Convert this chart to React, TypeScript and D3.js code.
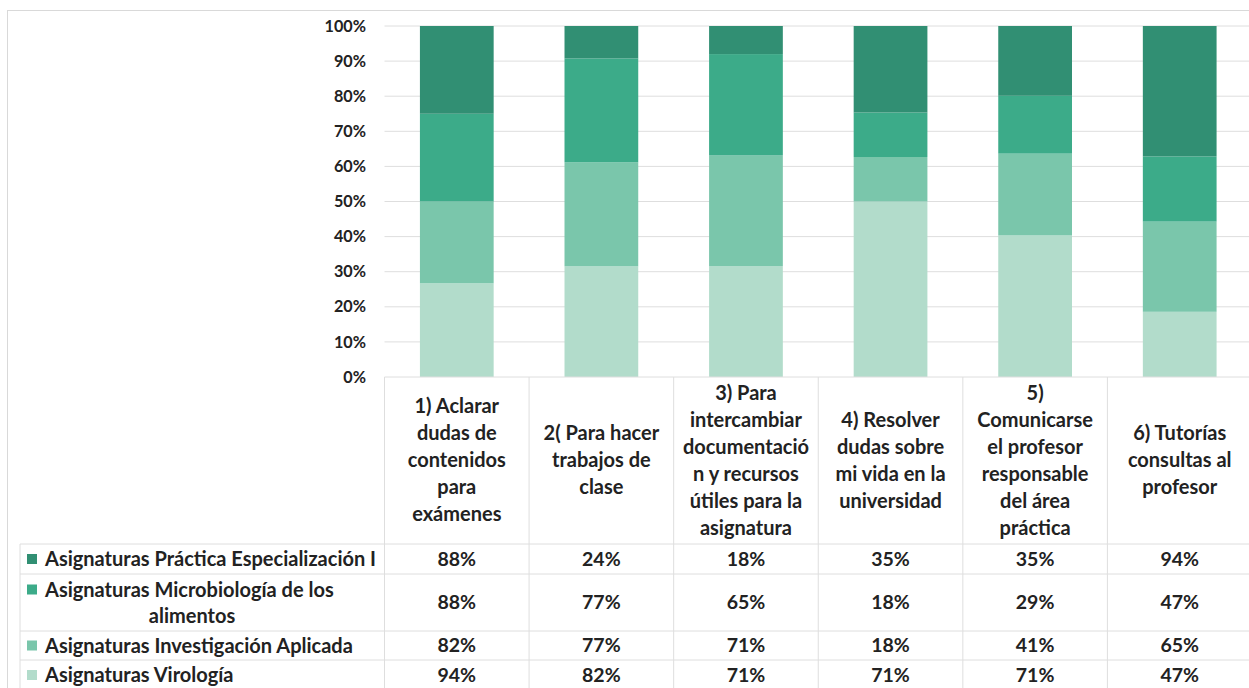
import * as d3 from "d3";

const categories = [
    ["1) Aclarar", "dudas de", "contenidos", "para", "exámenes"],
    ["2( Para hacer", "trabajos de", "clase"],
    ["3) Para", "intercambiar", "documentació", "n y recursos", "útiles para la", "asignatura"],
    ["4) Resolver", "dudas sobre", "mi vida en la", "universidad"],
    ["5)", "Comunicarse", "el profesor", "responsable", "del área", "práctica"],
    ["6) Tutorías", "consultas al", "profesor"],
];

// series, bottom of the stack first
const seriesNames = [
    ["Asignaturas Virología"],
    ["Asignaturas Investigación Aplicada"],
    ["Asignaturas Microbiología de los", "alimentos"],
    ["Asignaturas Práctica Especialización I"],
];
const virologia = [94, 82, 71, 71, 71, 47];
const investigacion = [82, 77, 71, 18, 41, 65];
const microbiologia = [88, 77, 65, 18, 29, 47];
const practica = [88, 24, 18, 35, 35, 94];
const seriesValues = [virologia, investigacion, microbiologia, practica];
const colors = ["#b2dccb", "#7ac6ab", "#3cab89", "#318f73"];
const yTicks = [0, 0.1, 0.2, 0.3, 0.4, 0.5, 0.6, 0.7, 0.8, 0.9, 1];

const W = 1249;
const H = 688;
const FONT = "Lato, 'Open Sans', sans-serif";
const GRID = "#dedede";

export default function App() {
    const plotLeft = 384.5;
    const plotRight = 1252;
    const plotTop = 26;
    const plotBottom = 377;

    const x = d3.scaleBand<number>()
        .domain(d3.range(categories.length))
        .range([plotLeft, plotRight])
        .paddingInner(0.49)
        .paddingOuter(0.245);
    const colX = d3.scaleBand<number>()
        .domain(d3.range(categories.length))
        .range([plotLeft, plotRight]);
    const y = d3.scaleLinear().domain([0, 1]).range([plotBottom, plotTop]);

    const rows = categories.map((_, i) => {
        const o: Record<string, number> = {};
        seriesValues.forEach((s, k) => (o["s" + k] = s[i]));
        return o;
    });
    const stacked = d3.stack<Record<string, number>>()
        .keys(seriesValues.map((_, k) => "s" + k))
        .offset(d3.stackOffsetExpand)(rows);

    // table rows: top-to-bottom order is reverse of stack
    const tableOrder = [3, 2, 1, 0];
    const rowBounds = [544, 574, 631, 660, 700];
    const legendLeft = 20;
    const headerMid = 460;
    const lineH = 27;

    return (
        <svg width={W} height={H} style={{ position: "absolute", left: 0, top: 0, background: "#fff" }}
            fontFamily={FONT} fontWeight="bold" fill="#222">
            <rect x={7.5} y={10.5} width={W + 10} height={H + 10} fill="#fff" stroke="#d9d9d9" />
            {yTicks.map(t => (
                <g key={t}>
                    {t > 0 && <line x1={plotLeft} x2={plotRight} y1={y(t)} y2={y(t)} stroke={GRID} />}
                    <text x={366} y={y(t)} dy="0.35em" textAnchor="end" fontSize={16.2}>
                        {d3.format(".0%")(t)}
                    </text>
                </g>
            ))}
            {stacked.map((layer, k) => (
                <g key={k} fill={colors[k]}>
                    {layer.map((d, i) => (
                        <rect key={i} x={x(i)} width={x.bandwidth()} y={y(d[1])} height={y(d[0]) - y(d[1])} />
                    ))}
                </g>
            ))}
            {/* data table grid */}
            <g stroke={GRID} fill="none">
                <line x1={plotLeft} x2={plotRight} y1={plotBottom} y2={plotBottom} />
                {rowBounds.slice(0, -1).map(b => (
                    <line key={b} x1={legendLeft} x2={plotRight} y1={b} y2={b} />
                ))}
                {d3.range(categories.length + 1).map(i => {
                    const xx = i < categories.length ? colX(i)! : plotRight;
                    return <line key={i} x1={xx} x2={xx} y1={plotBottom} y2={H} />;
                })}
                <line x1={legendLeft} x2={legendLeft} y1={rowBounds[0]} y2={H} />
            </g>
            {categories.map((lines, i) => {
                const cx = colX(i)! + colX.bandwidth() / 2;
                const y0 = headerMid - ((lines.length - 1) * lineH) / 2;
                return (
                    <text key={i} x={cx} textAnchor="middle" fontSize={20}>
                        {lines.map((l, j) => (
                            <tspan key={j} x={cx} y={y0 + j * lineH} dy="0.35em">{l}</tspan>
                        ))}
                    </text>
                );
            })}
            {tableOrder.map((k, r) => {
                const top = rowBounds[r];
                const bottom = r === 3 ? 690 : rowBounds[r + 1];
                const mid = (top + bottom) / 2;
                const name = seriesNames[k];
                const ly0 = mid - ((name.length - 1) * 26) / 2;
                return (
                    <g key={k}>
                        <rect x={27} y={ly0 - 5} width={10} height={10} fill={colors[k]} />
                        {name.map((l, j) => (
                            <text key={j} x={j === 0 ? 45 : 192} y={ly0 + j * 26} dy="0.35em"
                                textAnchor={j === 0 ? "start" : "middle"} fontSize={20}>{l}</text>
                        ))}
                        {seriesValues[k].map((v, i) => (
                            <text key={i} x={colX(i)! + colX.bandwidth() / 2} y={mid} dy="0.35em"
                                textAnchor="middle" fontSize={19.5}>{v}%</text>
                        ))}
                    </g>
                );
            })}
        </svg>
    );
}
